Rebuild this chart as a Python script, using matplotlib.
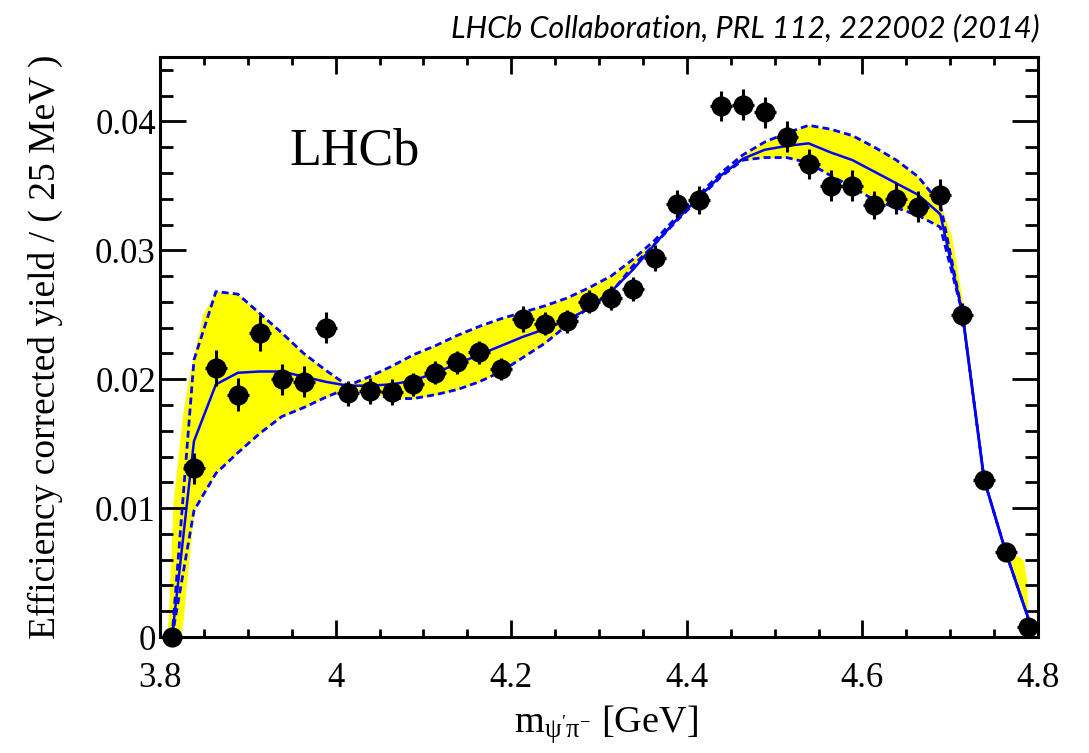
"""Efficiency-corrected psi(2S) pi- mass spectrum with the fit result and its uncertainty band."""
import matplotlib
matplotlib.use("Agg")
import matplotlib.pyplot as plt
from matplotlib.ticker import MultipleLocator, FuncFormatter

# 25 MeV bin centres [GeV]
mass = [3.8137, 3.8387, 3.8637, 3.8887, 3.9137, 3.9387, 3.9637, 3.9887, 4.0137, 4.0387,
        4.0637, 4.0887, 4.1137, 4.1387, 4.1637, 4.1887, 4.2137, 4.2387, 4.2637, 4.2887,
        4.3137, 4.3387, 4.3637, 4.3887, 4.4137, 4.4387, 4.4637, 4.4887, 4.5137, 4.5387,
        4.5637, 4.5887, 4.6137, 4.6387, 4.6637, 4.6887, 4.7137, 4.7387, 4.7637, 4.7887]
bin_half = 0.0125

yield_data = [0.0000, 0.0131, 0.0209, 0.0188, 0.0236, 0.0200, 0.0198, 0.0240, 0.0189, 0.0191,
              0.0190, 0.0196, 0.0205, 0.0213, 0.0221, 0.0208, 0.0247, 0.0243, 0.0245, 0.0260,
              0.0263, 0.0270, 0.0294, 0.0336, 0.0339, 0.0412, 0.0413, 0.0407, 0.0388, 0.0367,
              0.0350, 0.0350, 0.0335, 0.0340, 0.0334, 0.0343, 0.0250, 0.0122, 0.0066, 0.0008]
yield_err = [0.0002, 0.0012, 0.0014, 0.0013, 0.0014, 0.0012, 0.0012, 0.0012, 0.0010, 0.0010,
             0.0010, 0.0009, 0.0009, 0.0009, 0.0009, 0.00085, 0.0010, 0.0009, 0.0009, 0.0009,
             0.0009, 0.0009, 0.0010, 0.0011, 0.0011, 0.0012, 0.0012, 0.0012, 0.0012, 0.0012,
             0.0012, 0.0012, 0.0011, 0.0012, 0.0012, 0.0012, 0.0009, 0.0007, 0.0006, 0.0003]

# fit projection and its upper / lower envelope
fit = [0.0000, 0.0152, 0.0196, 0.0205, 0.0206, 0.0206, 0.0202, 0.0198, 0.0195, 0.0195,
       0.0196, 0.0199, 0.0205, 0.0212, 0.0219, 0.0226, 0.0233, 0.0239, 0.0246, 0.0255,
       0.0268, 0.0285, 0.0305, 0.0324, 0.0341, 0.0358, 0.0371, 0.0378, 0.0381, 0.0383,
       0.0376, 0.0370, 0.0361, 0.0352, 0.0343, 0.0328, 0.0252, 0.0122, 0.0065, 0.0015]
fit_hi = [0.0000, 0.0215, 0.0268, 0.0266, 0.0251, 0.0236, 0.0220, 0.0207, 0.0195, 0.0202,
          0.0210, 0.0219, 0.0226, 0.0234, 0.0241, 0.0247, 0.0252, 0.0257, 0.0263, 0.0271,
          0.0280, 0.0293, 0.0308, 0.0326, 0.0343, 0.0360, 0.0374, 0.0384, 0.0391, 0.0397,
          0.0394, 0.0389, 0.0380, 0.0370, 0.0357, 0.0336, 0.0252, 0.0122, 0.0065, 0.0015]
fit_lo = [0.0000, 0.0098, 0.0127, 0.0143, 0.0158, 0.0171, 0.0178, 0.0186, 0.0193, 0.0189,
          0.0185, 0.0185, 0.0188, 0.0192, 0.0198, 0.0206, 0.0217, 0.0228, 0.0242, 0.0256,
          0.0267, 0.0288, 0.0305, 0.0323, 0.0340, 0.0357, 0.0370, 0.0372, 0.0372, 0.0368,
          0.0358, 0.0349, 0.0339, 0.0333, 0.0327, 0.0318, 0.0252, 0.0122, 0.0065, 0.0015]

# band edges at threshold and at the kinematic endpoint
edge_lo_x = [3.8080, 3.8100, 3.8148, 3.8228, 3.8262, 3.8308, 3.8387, 3.8490, 3.8637]
edge_lo_hi = [0.0000, 0.0025, 0.0104, 0.0155, 0.0175, 0.0194, 0.0220, 0.0251, 0.0268]
edge_lo_lo = [0.0000, 0.0000, 0.0000, 0.0000, 0.0012, 0.0045, 0.0098, 0.0114, 0.0127]
edge_hi_x = [4.6887, 4.7020, 4.7137, 4.7387, 4.7637, 4.7738, 4.7830, 4.7870, 4.7887]
edge_hi_hi = [0.0336, 0.0310, 0.0262, 0.0126, 0.0066, 0.0064, 0.0060, 0.0045, 0.0000]
edge_hi_lo = [0.0318, 0.0288, 0.0252, 0.0122, 0.0065, 0.0045, 0.0027, 0.0019, 0.0000]

plt.rcParams["font.family"] = "Liberation Serif"
plt.rcParams["mathtext.fontset"] = "stix"
plt.rcParams["mathtext.default"] = "regular"

fig = plt.figure(figsize=(10.89, 7.53), dpi=100)
ax = fig.add_axes([160 / 1089, 116 / 753, 878 / 1089, 580 / 753])

yellow = "#ffff00"
blue = "#0000ff"
ax.fill_between(mass, fit_lo, fit_hi, color=yellow, lw=0, zorder=1)
ax.fill_between(edge_lo_x, edge_lo_lo, edge_lo_hi, color=yellow, lw=0, zorder=1)
ax.fill_between(edge_hi_x, edge_hi_lo, edge_hi_hi, color=yellow, lw=0, zorder=1)
ax.plot(mass, fit_hi, color=blue, lw=2.0, ls=(0, (2.5, 1.5)), zorder=2)
ax.plot(mass, fit_lo, color=blue, lw=2.0, ls=(0, (2.5, 1.5)), zorder=2)
ax.plot(mass, fit, color=blue, lw=1.8, zorder=3)
ax.errorbar(mass, yield_data, yerr=yield_err, xerr=bin_half, fmt="o", color="black",
            ms=13.5, elinewidth=2.2, capsize=0, zorder=4, clip_on=False)

ax.set_xlim(3.8, 4.8)
ax.set_ylim(0, 0.045)
ax.xaxis.set_major_locator(MultipleLocator(0.2))
ax.xaxis.set_minor_locator(MultipleLocator(0.05))
ax.yaxis.set_major_locator(MultipleLocator(0.01))
ax.yaxis.set_minor_locator(MultipleLocator(0.002))
ax.xaxis.set_major_formatter(FuncFormatter(lambda v, p: f"{v:g}"))
ax.yaxis.set_major_formatter(FuncFormatter(lambda v, p: f"{v:g}"))

for s in ax.spines.values():
    s.set_linewidth(2.2)
    s.set_zorder(5)
ax.tick_params(which="both", direction="in", top=True, right=True, width=2,
               labelsize=25)
ax.tick_params(axis="y", which="major", length=19, pad=3)
ax.tick_params(axis="y", which="minor", length=9.5)
ax.tick_params(axis="x", which="major", length=12, pad=18)
ax.tick_params(axis="x", which="minor", length=6)

ax.text(0.148, 0.814, "LHCb", transform=ax.transAxes, fontsize=37.5, va="baseline")

fig.text(45 / 1089, 1 - 347 / 753, "Efficiency corrected yield / ( 25 MeV )",
         rotation=90, ha="center", va="center", fontsize=27)
fig.text(606 / 1089, 20 / 753, r"m$_{\psi'\pi^{-}}$ [GeV]", ha="center",
         va="baseline", fontsize=27.5)
fig.text(1040 / 1089, 1 - 28 / 753, "LHCb Collaboration, PRL 112, 222002 (2014)",
         ha="right", va="center", fontsize=22, style="italic", family="Lato")

fig.savefig("out.png", dpi=100)
